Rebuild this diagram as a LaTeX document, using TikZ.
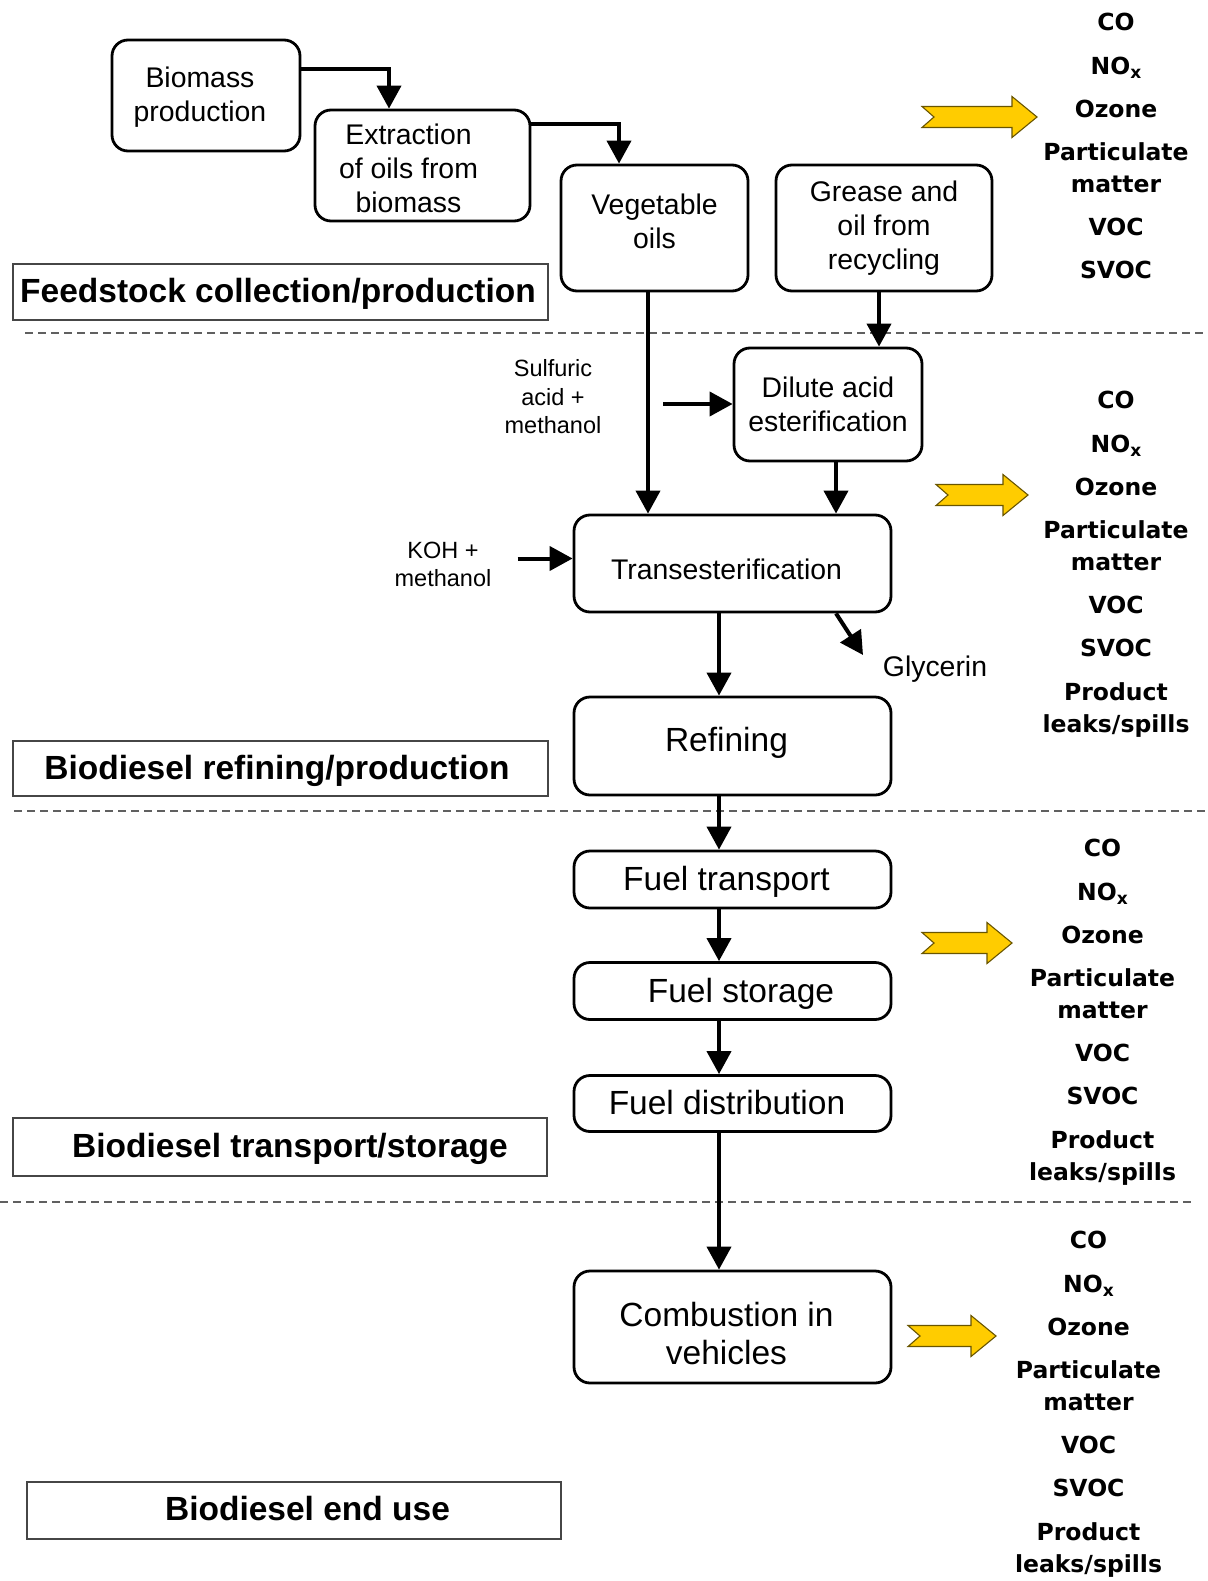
\documentclass[tikz,border=0pt]{standalone}
\usepackage{fontspec}
\setmainfont{Liberation Sans}
\newfontfamily\emfont{DejaVu Sans}
\usetikzlibrary{arrows.meta}
\definecolor{gold}{RGB}{255,204,0}
\definecolor{goldline}{RGB}{105,85,0}
\newcommand\sh[1]{\hspace*{#1}}
\newcommand\nox{NO\raisebox{-0.35ex}{\fontsize{17}{17}\selectfont x}}
\newcommand\yelarrow[3]{%
  \draw[yel] ({#1},{#3-10.5}) -- ({#2-25},{#3-10.5}) -- ({#2-25},{#3-20.5}) -- ({#2},{#3})
    -- ({#2-25},{#3+20.5}) -- ({#2-25},{#3+10.5}) -- ({#1},{#3+10.5}) -- ({#1+12},{#3}) -- cycle;}
\tikzset{
  box/.style={draw, line width=2.8pt, rounded corners=16pt, inner sep=0pt, align=center,
    font=\fontsize{28.4}{34}\selectfont},
  bigbox/.style={box, font=\fontsize{33.5}{38}\selectfont},
  sect/.style={draw=gray!55!black, line width=1.6pt, inner sep=0pt,
    font=\bfseries\fontsize{33.5}{40}\selectfont},
  conn/.style={line width=4pt, -{Triangle[length=23pt,width=24pt]}},
  note/.style={inner sep=0pt, align=center, font=\fontsize{23.5}{28.5}\selectfont},
  emis/.style={inner sep=0pt, anchor=north, align=center,
    font=\emfont\bfseries\fontsize{23.5}{32}\selectfont},
  sep/.style={line width=1.3pt, draw=gray!75!black, dash pattern=on 8pt off 5pt},
  yel/.style={fill=gold, draw=goldline, line width=1.1pt, line join=miter}
}
\begin{document}
\begin{tikzpicture}[x=1pt,y=-1pt]
\useasboundingbox (0,0) rectangle (1207,1581);

% separators
\draw[sep] (25,333) -- (1207,333);
\draw[sep] (14,811) -- (1207,811);
\draw[sep] (0,1202) -- (1193,1202);

% process boxes
\node[box, minimum width=188pt, minimum height=111pt] (bio) at (206,95.5)
  {\rule{0pt}{24.7pt}\sh{-12pt}Biomass\\\sh{-12pt}production};
\node[box, minimum width=215pt, minimum height=111pt] (ext) at (422.5,165.5)
  {\rule{0pt}{26.7pt}\sh{-28pt}Extraction\\\sh{-28pt}of oils from\\\sh{-28pt}biomass};
\node[box, minimum width=187pt, minimum height=126pt] (veg) at (654.5,228)
  {Vegetable\\oils\rule[-13.4pt]{0pt}{13.4pt}};
\node[box, minimum width=216pt, minimum height=126pt] (gre) at (884,228)
  {Grease and\\oil from\\recycling};
\node[box, minimum width=188pt, minimum height=113pt] (dil) at (828,404.5)
  {Dilute acid\\esterification};
\node[box, minimum width=317pt, minimum height=97pt, text height=32.7pt, text depth=0pt]
  (tra) at (732.5,563.5) {\sh{-12pt}Transesterification};
\node[bigbox, minimum width=317pt, minimum height=98pt, text height=24.4pt, text depth=14.4pt]
  (ref) at (732.5,746) {\sh{-12pt}Refining};
\node[bigbox, minimum width=317pt, minimum height=57pt, text height=28.4pt, text depth=7pt]
  (ft) at (732.5,879.5) {\sh{-12pt}Fuel transport};
\node[bigbox, minimum width=317pt, minimum height=57pt, text height=30.4pt, text depth=7pt]
  (fs) at (732.5,991) {\sh{17pt}Fuel storage};
\node[bigbox, minimum width=317pt, minimum height=56pt, text height=22.4pt, text depth=0pt]
  (fd) at (732.5,1103.5) {\sh{-11pt}Fuel distribution};
\node[bigbox, minimum width=317pt, minimum height=112pt] (com) at (732.5,1327)
  {\rule{0pt}{36.4pt}\sh{-12pt}Combustion in\\\sh{-12pt}vehicles};

% section labels
\node[sect, minimum width=535pt, minimum height=56pt, text height=28.4pt, text depth=7pt]
  (feed) at (280.5,292) {\sh{-5pt}Feedstock collection/production};
\node[sect, minimum width=535pt, minimum height=55pt, text height=28.4pt, text depth=7pt]
  (refl) at (280.5,768.5) {\sh{-7pt}Biodiesel refining/production};
\node[sect, minimum width=534pt, minimum height=58pt, text height=28.4pt, text depth=7pt]
  (trl) at (280,1147) {\sh{20pt}Biodiesel transport/storage};
\node[sect, minimum width=534pt, minimum height=57pt, text height=24.4pt, text depth=4pt]
  (endl) at (294,1510.5) {\sh{27pt}Biodiesel end use};

% side notes
\node[note] (sulf) at (553,397) {Sulfuric\\acid +\\methanol};
\node[note, font=\fontsize{23.5}{28}\selectfont] (koh) at (443,564) {KOH +\\methanol};
\node[inner sep=0pt, font=\fontsize{28.4}{34}\selectfont] (gly) at (935,669) {Glycerin};

\coordinate (sulfin) at (663,404);
\coordinate (kohin) at (517.5,558.5);
\coordinate (glytip) at (863,655);

% connectors
\draw[conn] ([yshift=26.5pt]bio.east) -| ([xshift=-33.5pt]ext.north);
\draw[conn] ([yshift=41pt]ext.east) -| ([xshift=-35.5pt]veg.north);
\draw[conn] ([xshift=-6.5pt]veg.south) -- ([xshift=-6.5pt]veg.south |- tra.north);
\draw[conn] ([xshift=-5pt]gre.south) -- ([xshift=-5pt]gre.south |- dil.north);
\draw[conn] (sulfin) -- (sulfin -| dil.west);
\draw[conn] ([xshift=8pt]dil.south) -- ([xshift=8pt]dil.south |- tra.north);
\draw[conn] (kohin) -- (kohin -| tra.west);
\draw[conn] ([xshift=103.5pt]tra.south) -- (glytip);
\draw[conn] ([xshift=-13.5pt]tra.south) -- ([xshift=-13.5pt]tra.south |- ref.north);
\draw[conn] ([xshift=-13.5pt]ref.south) -- ([xshift=-13.5pt]ref.south |- ft.north);
\draw[conn] ([xshift=-13.5pt]ft.south) -- ([xshift=-13.5pt]ft.south |- fs.north);
\draw[conn] ([xshift=-13.5pt]fs.south) -- ([xshift=-13.5pt]fs.south |- fd.north);
\draw[conn] ([xshift=-13.5pt]fd.south) -- ([xshift=-13.5pt]fd.south |- com.north);

% emission arrows
\yelarrow{922}{1037}{117}
\yelarrow{936}{1028}{495}
\yelarrow{922}{1012}{943}
\yelarrow{908}{996}{1336}

% emission lists
\node[emis] (em1) at (1116,13)
  {CO\\[11.5pt]\nox\\[11.5pt]Ozone\\[10.5pt]Particulate\\matter\\[11pt]VOC\\[11pt]SVOC};
\node[emis] (em2) at (1116,391)
  {CO\\[11.5pt]\nox\\[11.5pt]Ozone\\[11pt]Particulate\\matter\\[10.5pt]VOC\\[11pt]SVOC\\[12.5pt]Product\\leaks/spills};
\node[emis] (em3) at (1102.5,839)
  {CO\\[11.5pt]\nox\\[11.5pt]Ozone\\[11pt]Particulate\\matter\\[10.5pt]VOC\\[11pt]SVOC\\[12.5pt]Product\\leaks/spills};
\node[emis] (em4) at (1088.5,1231)
  {CO\\[11.5pt]\nox\\[11.5pt]Ozone\\[11pt]Particulate\\matter\\[10.5pt]VOC\\[11pt]SVOC\\[12.5pt]Product\\leaks/spills};
\end{tikzpicture}
\end{document}
